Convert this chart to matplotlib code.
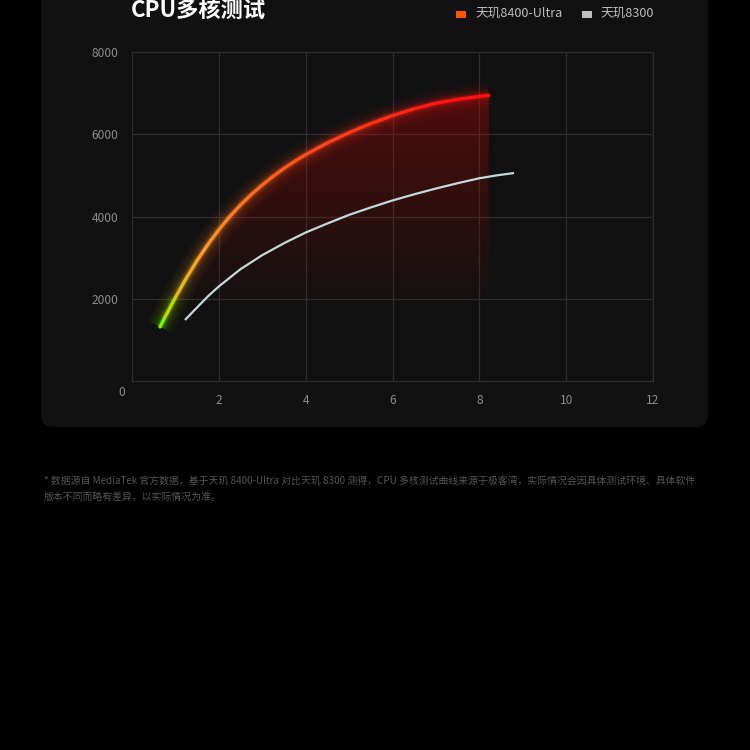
import numpy as np
import matplotlib
matplotlib.use("Agg")
import matplotlib.pyplot as plt
from matplotlib.collections import LineCollection
from matplotlib.colors import LinearSegmentedColormap
from matplotlib.patches import FancyBboxPatch, Rectangle, Polygon

plt.rcParams['font.family'] = ['Noto Sans CJK SC', 'DejaVu Sans']

# ---- data ----
title = "CPU多核测试"
series_names = ["天玑8400-Ultra", "天玑8300"]
x_8400 = [0.645, 0.75, 1.0, 1.25, 1.5, 1.75, 2.0, 2.25, 2.5, 2.75, 3.0, 3.25, 3.5, 3.75, 4.0,
          4.5, 5.0, 5.5, 6.0, 6.5, 7.0, 7.5, 8.0, 8.22]
y_8400 = [1313, 1533, 2033, 2501, 2931, 3324, 3679, 3997, 4282, 4537, 4767, 4977, 5170, 5345, 5505,
          5790, 6040, 6260, 6455, 6620, 6755, 6850, 6920, 6946]
x_8300 = [1.22, 1.5, 1.75, 2.0, 2.5, 3.0, 3.5, 4.0, 4.5, 5.0, 5.5, 6.0, 6.5, 7.0, 7.5, 8.0, 8.4, 8.8]
y_8300 = [1483, 1790, 2060, 2300, 2720, 3060, 3350, 3610, 3830, 4040, 4220, 4390, 4540, 4680, 4810, 4930, 5000, 5057]
x_ticks = [2, 4, 6, 8, 10, 12]
y_ticks = [2000, 4000, 6000, 8000]
footnote = ["* 数据源自 MediaTek 官方数据，基于天玑 8400-Ultra 对比天玑 8300 测得，CPU 多核测试曲线来源于极客湾，实际情况会因具体测试环境、具体软件",
            "版本不同而略有差异，以实际情况为准。"]

W = H = 750.0
def fx(px): return px / W
def fy(py): return 1 - py / H

fig = plt.figure(figsize=(7.5, 7.5), dpi=100, facecolor='black')

# card
card = FancyBboxPatch((fx(41), fy(427)), fx(708) - fx(41), 1.2,
                      boxstyle="round,pad=0,rounding_size=0.016",
                      transform=fig.transFigure, facecolor='#111111', edgecolor='none', zorder=-5)
fig.patches.append(card)

ax = fig.add_axes([fx(132), fy(381), fx(653) - fx(132), fy(52) - fy(381)])
ax.set_zorder(2)
ax.set_facecolor('none')
ax.set_xlim(0, 12)
ax.set_ylim(0, 8000)

grid_c = '#2e2e2e'
for s in ax.spines.values():
    s.set_color(grid_c)
    s.set_linewidth(0.9)
ax.set_xticks(x_ticks)
ax.set_yticks(y_ticks)
ax.grid(True, color=grid_c, linewidth=0.9)
ax.set_axisbelow(True)
ax.tick_params(length=0, colors='#8c8c8c', labelsize=8.6)
ax.tick_params(axis='y', pad=10)
ax.tick_params(axis='x', pad=9)
fig.text(fx(122), fy(393), "0", color='#8c8c8c', fontsize=8.6, ha='center', va='center')

# gradient fill under the 8400 curve
xr = np.array(x_8400); yr = np.array(y_8400)
yy = np.linspace(0, 8000, 400)
alpha = np.clip((yy - 1700) / (7000 - 1700), 0, 1) ** 1.0 * 0.34
img = np.zeros((len(yy), 2, 4))
img[..., 0] = 0.80; img[..., 1] = 0.01; img[..., 2] = 0.01
img[..., 3] = alpha[:, None]
im = ax.imshow(img, extent=[xr[0], xr[-1], 0, 8000], origin='lower', aspect='auto', zorder=1, interpolation='bilinear')
verts = list(zip(xr, yr)) + [(xr[-1], 0), (xr[0], 0)]
poly = Polygon(verts, closed=True, transform=ax.transData, facecolor='none', edgecolor='none')
ax.add_patch(poly)
im.set_clip_path(poly)
ax.set_xlim(0, 12)
ax.set_ylim(0, 8000)

# 8300 line
ax.plot(x_8300, y_8300, color='#c3dadd', linewidth=1.6, solid_capstyle='butt',
        solid_joinstyle='round', zorder=3)

# 8400 gradient glowing line
cmap = LinearSegmentedColormap.from_list('heat', [
    (0.0, '#66ff00'), (0.087, '#b8e000'), (0.193, '#f0b020'), (0.335, '#ff9a28'),
    (0.513, '#ff7a20'), (0.744, '#ff4e1a'), (0.922, '#ff2a18'), (1.0, '#ff0e0e')])
pts = np.column_stack([xr, yr])
segs = np.stack([pts[:-1], pts[1:]], axis=1)
mid = (yr[:-1] + yr[1:]) / 2
t = (mid - yr.min()) / (yr.max() - yr.min())
cols = cmap(t)
for lw, a in [(20, 0.035), (15, 0.05), (10, 0.08), (6.5, 0.13), (4, 0.25)]:
    c = cols.copy(); c[:, 3] = a
    lc = LineCollection(segs, colors=c, linewidths=lw, capstyle='butt', joinstyle='round', zorder=4)
    ax.add_collection(lc)
lc = LineCollection(segs, colors=cols, linewidths=2.3, capstyle='round', joinstyle='round', zorder=5)
ax.add_collection(lc)

# title
fig.text(fx(131), fy(17), title, color='white', fontsize=16, fontweight='bold', va='baseline', ha='left')

# legend
fig.patches.append(Rectangle((fx(456), fy(18)), fx(10), 6.5 / H, transform=fig.transFigure,
                             facecolor='#ff5500', edgecolor='none'))
fig.text(fx(475), fy(13.5), series_names[0], color='#bdbdbd', fontsize=9.1, va='center', ha='left')
fig.patches.append(Rectangle((fx(582), fy(18)), fx(10), 6.5 / H, transform=fig.transFigure,
                             facecolor='#bdbdbd', edgecolor='none'))
fig.text(fx(600), fy(13.5), series_names[1], color='#bdbdbd', fontsize=9.1, va='center', ha='left')

# footnote
fig.text(fx(44), fy(481), footnote[0], color='#555555', fontsize=7.1, va='center', ha='left')
fig.text(fx(44), fy(497), footnote[1], color='#555555', fontsize=7.1, va='center', ha='left')

fig.savefig('out.png', dpi=100, facecolor='black')
